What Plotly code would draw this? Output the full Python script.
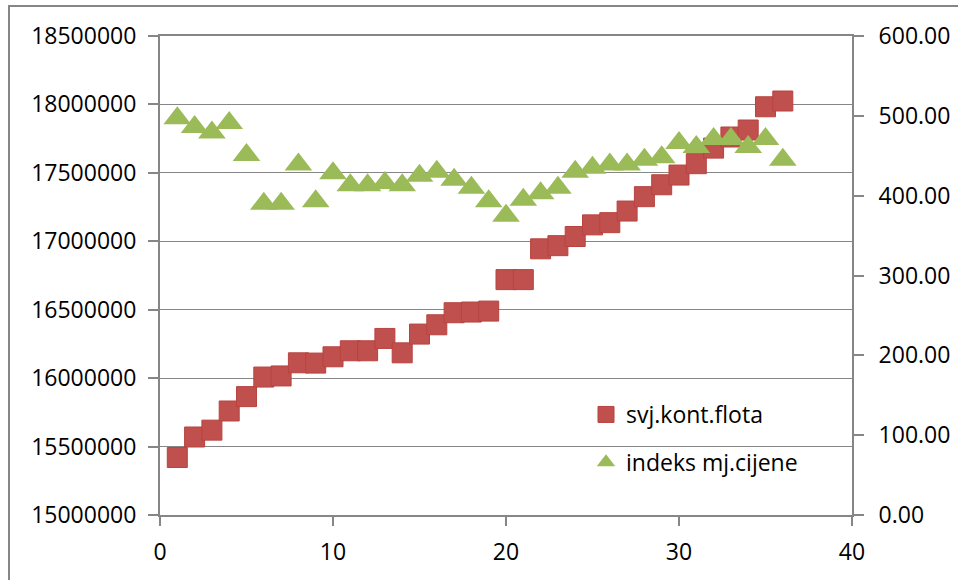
import plotly.graph_objects as go

# Data
months = list(range(1, 37))
svj_kont_flota = [
    15420000, 15570000, 15620000, 15760000, 15865000, 16008000, 16016000, 16112000,
    16110000, 16156000, 16200000, 16200000, 16290000, 16185000, 16322000, 16390000,
    16478000, 16483000, 16490000, 16720000, 16720000, 16945000, 16968000, 17035000,
    17120000, 17136000, 17221000, 17326000, 17413000, 17484000, 17567000, 17681000,
    17762000, 17813000, 17983000, 18025000,
]
indeks_mj_cijene = [
    497, 486, 479, 491, 451, 390, 390, 439, 393, 428, 413, 413,
    416, 413, 425, 430, 420, 410, 393, 375, 395, 403, 410, 430,
    435, 439, 439, 445, 448, 466, 461, 471, 471, 461, 471, 445,
]
series_names = ["svj.kont.flota", "indeks mj.cijene"]

FONT = "Open Sans"
FS = 23
GREY = "#868686"

fig = go.Figure()
fig.add_trace(go.Scatter(
    x=months, y=svj_kont_flota, mode="markers", name=series_names[0],
    legendgroup="a",
    marker=dict(symbol="square", size=20, color="#C0504D",
                line=dict(color="#B8433F", width=1)),
))
fig.add_trace(go.Scatter(
    x=months, y=indeks_mj_cijene, mode="markers", name=series_names[1],
    legendgroup="b", yaxis="y2",
    marker=dict(symbol="triangle-up", size=24, color="#9BBB59",
                line=dict(width=0)),
))

L, R, T, B = 160, 106, 36, 65
W, H = 958, 580
pw, ph = W - L - R, H - T - B

fig.update_layout(
    width=W, height=H,
    margin=dict(l=L, r=R, t=T, b=B, autoexpand=False),
    paper_bgcolor="white", plot_bgcolor="white",
    font=dict(family=FONT, size=FS, color="#000000"),
    showlegend=True,
    legend=dict(x=(586 - L) / pw, y=(515 - 393) / ph, xanchor="left", yanchor="top",
                bgcolor="rgba(0,0,0,0)", tracegroupgap=15,
                font=dict(family=FONT, size=FS, color="#000000")),
    xaxis=dict(range=[0, 40], dtick=10, tick0=0, showgrid=False, zeroline=False,
               showline=True, linecolor=GREY, linewidth=1.5, mirror=True,
               ticks="outside", ticklen=9, tickcolor=GREY, tickwidth=1.5,
               ticklabelstandoff=7, automargin=False),
    yaxis=dict(range=[15000000, 18500000], dtick=500000, tick0=15000000,
               tickformat="d", showgrid=True, gridcolor=GREY, gridwidth=1,
               zeroline=False, showline=True, linecolor=GREY, linewidth=2,
               ticks="outside", ticklen=10, tickcolor=GREY, tickwidth=1.5,
               ticklabelstandoff=7, automargin=False),
    yaxis2=dict(range=[0, 600], dtick=100, tick0=0, tickformat=".2f",
                overlaying="y", side="right", showgrid=False, zeroline=False,
                showline=True, linecolor=GREY, linewidth=2,
                ticks="outside", ticklen=10, tickcolor=GREY, tickwidth=1.5,
                ticklabelstandoff=10, automargin=False),
    shapes=[dict(type="rect", xref="paper", yref="paper",
                 x0=(9 - L) / pw, x1=1.5, y0=-0.5, y1=1 + (T - 6) / ph,
                 line=dict(color=GREY, width=2), fillcolor="rgba(0,0,0,0)",
                 layer="below")],
)

fig.write_html("out.html", config={"displayModeBar": False},
               post_script="document.body.style.margin='0px';")
